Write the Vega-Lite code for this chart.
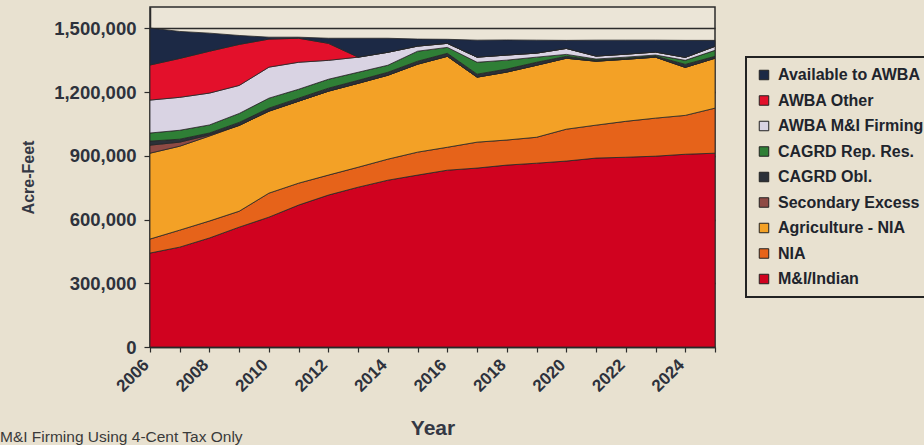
{
  "$schema": "https://vega.github.io/schema/vega-lite/v6.json",
  "width": 565,
  "height": 340,
  "autosize": {"type": "none"},
  "padding": {"left": 150, "top": 7, "right": 209, "bottom": 98},
  "background": "#e8e1d0",
  "title": {"text": "M&I Firming Using 4-Cent Tax Only", "orient": "bottom", "anchor": "start", "frame": "group", "dx": -150, "offset": -8, "fontSize": 15.5, "font": "Liberation Sans", "fontWeight": "normal", "color": "#3a3a3a"},
  "datasets": {
    "series": [
      {"s": "M&I/Indian", "rank": 1},
      {"s": "NIA", "rank": 2},
      {"s": "Agriculture - NIA", "rank": 3},
      {"s": "Secondary Excess", "rank": 4},
      {"s": "CAGRD Obl.", "rank": 5},
      {"s": "CAGRD Rep. Res.", "rank": 6},
      {"s": "AWBA M&I Firming", "rank": 7},
      {"s": "AWBA Other", "rank": 8},
      {"s": "Available to AWBA", "rank": 9}
    ]
  },
  "data": {"values": [
    {"year":2006,"s":"M&I/Indian","v":442000},{"year":2006,"s":"NIA","v":66000},{"year":2006,"s":"Agriculture - NIA","v":404000},{"year":2006,"s":"Secondary Excess","v":38000},{"year":2006,"s":"CAGRD Obl.","v":19000},{"year":2006,"s":"CAGRD Rep. Res.","v":38000},{"year":2006,"s":"AWBA M&I Firming","v":155000},{"year":2006,"s":"AWBA Other","v":165000},{"year":2006,"s":"Available to AWBA","v":174000},
    {"year":2007,"s":"M&I/Indian","v":470000},{"year":2007,"s":"NIA","v":80000},{"year":2007,"s":"Agriculture - NIA","v":395000},{"year":2007,"s":"Secondary Excess","v":19000},{"year":2007,"s":"CAGRD Obl.","v":14000},{"year":2007,"s":"CAGRD Rep. Res.","v":42000},{"year":2007,"s":"AWBA M&I Firming","v":155000},{"year":2007,"s":"AWBA Other","v":183000},{"year":2007,"s":"Available to AWBA","v":127000},
    {"year":2008,"s":"M&I/Indian","v":513000},{"year":2008,"s":"NIA","v":80000},{"year":2008,"s":"Agriculture - NIA","v":400000},{"year":2008,"s":"Secondary Excess","v":5000},{"year":2008,"s":"CAGRD Obl.","v":9000},{"year":2008,"s":"CAGRD Rep. Res.","v":38000},{"year":2008,"s":"AWBA M&I Firming","v":150000},{"year":2008,"s":"AWBA Other","v":197000},{"year":2008,"s":"Available to AWBA","v":85000},
    {"year":2009,"s":"M&I/Indian","v":564000},{"year":2009,"s":"NIA","v":75000},{"year":2009,"s":"Agriculture - NIA","v":404000},{"year":2009,"s":"Secondary Excess","v":0},{"year":2009,"s":"CAGRD Obl.","v":14000},{"year":2009,"s":"CAGRD Rep. Res.","v":42000},{"year":2009,"s":"AWBA M&I Firming","v":132000},{"year":2009,"s":"AWBA Other","v":193000},{"year":2009,"s":"Available to AWBA","v":42000},
    {"year":2010,"s":"M&I/Indian","v":611000},{"year":2010,"s":"NIA","v":113000},{"year":2010,"s":"Agriculture - NIA","v":386000},{"year":2010,"s":"Secondary Excess","v":0},{"year":2010,"s":"CAGRD Obl.","v":14000},{"year":2010,"s":"CAGRD Rep. Res.","v":47000},{"year":2010,"s":"AWBA M&I Firming","v":146000},{"year":2010,"s":"AWBA Other","v":132000},{"year":2010,"s":"Available to AWBA","v":9000},
    {"year":2011,"s":"M&I/Indian","v":668000},{"year":2011,"s":"NIA","v":103000},{"year":2011,"s":"Agriculture - NIA","v":386000},{"year":2011,"s":"Secondary Excess","v":0},{"year":2011,"s":"CAGRD Obl.","v":14000},{"year":2011,"s":"CAGRD Rep. Res.","v":42000},{"year":2011,"s":"AWBA M&I Firming","v":127000},{"year":2011,"s":"AWBA Other","v":113000},{"year":2011,"s":"Available to AWBA","v":5000},
    {"year":2012,"s":"M&I/Indian","v":715000},{"year":2012,"s":"NIA","v":94000},{"year":2012,"s":"Agriculture - NIA","v":395000},{"year":2012,"s":"Secondary Excess","v":0},{"year":2012,"s":"CAGRD Obl.","v":14000},{"year":2012,"s":"CAGRD Rep. Res.","v":42000},{"year":2012,"s":"AWBA M&I Firming","v":89000},{"year":2012,"s":"AWBA Other","v":80000},{"year":2012,"s":"Available to AWBA","v":24000},
    {"year":2013,"s":"M&I/Indian","v":752000},{"year":2013,"s":"NIA","v":94000},{"year":2013,"s":"Agriculture - NIA","v":395000},{"year":2013,"s":"Secondary Excess","v":0},{"year":2013,"s":"CAGRD Obl.","v":14000},{"year":2013,"s":"CAGRD Rep. Res.","v":38000},{"year":2013,"s":"AWBA M&I Firming","v":71000},{"year":2013,"s":"AWBA Other","v":0},{"year":2013,"s":"Available to AWBA","v":89000},
    {"year":2014,"s":"M&I/Indian","v":785000},{"year":2014,"s":"NIA","v":99000},{"year":2014,"s":"Agriculture - NIA","v":395000},{"year":2014,"s":"Secondary Excess","v":0},{"year":2014,"s":"CAGRD Obl.","v":14000},{"year":2014,"s":"CAGRD Rep. Res.","v":33000},{"year":2014,"s":"AWBA M&I Firming","v":61000},{"year":2014,"s":"AWBA Other","v":0},{"year":2014,"s":"Available to AWBA","v":66000},
    {"year":2015,"s":"M&I/Indian","v":809000},{"year":2015,"s":"NIA","v":108000},{"year":2015,"s":"Agriculture - NIA","v":414000},{"year":2015,"s":"Secondary Excess","v":0},{"year":2015,"s":"CAGRD Obl.","v":14000},{"year":2015,"s":"CAGRD Rep. Res.","v":47000},{"year":2015,"s":"AWBA M&I Firming","v":24000},{"year":2015,"s":"AWBA Other","v":0},{"year":2015,"s":"Available to AWBA","v":33000},
    {"year":2016,"s":"M&I/Indian","v":832000},{"year":2016,"s":"NIA","v":108000},{"year":2016,"s":"Agriculture - NIA","v":428000},{"year":2016,"s":"Secondary Excess","v":0},{"year":2016,"s":"CAGRD Obl.","v":14000},{"year":2016,"s":"CAGRD Rep. Res.","v":28000},{"year":2016,"s":"AWBA M&I Firming","v":19000},{"year":2016,"s":"AWBA Other","v":0},{"year":2016,"s":"Available to AWBA","v":19000},
    {"year":2017,"s":"M&I/Indian","v":842000},{"year":2017,"s":"NIA","v":122000},{"year":2017,"s":"Agriculture - NIA","v":306000},{"year":2017,"s":"Secondary Excess","v":0},{"year":2017,"s":"CAGRD Obl.","v":14000},{"year":2017,"s":"CAGRD Rep. Res.","v":56000},{"year":2017,"s":"AWBA M&I Firming","v":24000},{"year":2017,"s":"AWBA Other","v":0},{"year":2017,"s":"Available to AWBA","v":80000},
    {"year":2018,"s":"M&I/Indian","v":856000},{"year":2018,"s":"NIA","v":118000},{"year":2018,"s":"Agriculture - NIA","v":320000},{"year":2018,"s":"Secondary Excess","v":0},{"year":2018,"s":"CAGRD Obl.","v":14000},{"year":2018,"s":"CAGRD Rep. Res.","v":42000},{"year":2018,"s":"AWBA M&I Firming","v":24000},{"year":2018,"s":"AWBA Other","v":0},{"year":2018,"s":"Available to AWBA","v":71000},
    {"year":2019,"s":"M&I/Indian","v":865000},{"year":2019,"s":"NIA","v":122000},{"year":2019,"s":"Agriculture - NIA","v":339000},{"year":2019,"s":"Secondary Excess","v":0},{"year":2019,"s":"CAGRD Obl.","v":14000},{"year":2019,"s":"CAGRD Rep. Res.","v":24000},{"year":2019,"s":"AWBA M&I Firming","v":19000},{"year":2019,"s":"AWBA Other","v":0},{"year":2019,"s":"Available to AWBA","v":61000},
    {"year":2020,"s":"M&I/Indian","v":875000},{"year":2020,"s":"NIA","v":150000},{"year":2020,"s":"Agriculture - NIA","v":334000},{"year":2020,"s":"Secondary Excess","v":0},{"year":2020,"s":"CAGRD Obl.","v":9000},{"year":2020,"s":"CAGRD Rep. Res.","v":9000},{"year":2020,"s":"AWBA M&I Firming","v":28000},{"year":2020,"s":"AWBA Other","v":0},{"year":2020,"s":"Available to AWBA","v":38000},
    {"year":2021,"s":"M&I/Indian","v":889000},{"year":2021,"s":"NIA","v":155000},{"year":2021,"s":"Agriculture - NIA","v":301000},{"year":2021,"s":"Secondary Excess","v":0},{"year":2021,"s":"CAGRD Obl.","v":5000},{"year":2021,"s":"CAGRD Rep. Res.","v":5000},{"year":2021,"s":"AWBA M&I Firming","v":14000},{"year":2021,"s":"AWBA Other","v":0},{"year":2021,"s":"Available to AWBA","v":75000},
    {"year":2022,"s":"M&I/Indian","v":893000},{"year":2022,"s":"NIA","v":169000},{"year":2022,"s":"Agriculture - NIA","v":292000},{"year":2022,"s":"Secondary Excess","v":0},{"year":2022,"s":"CAGRD Obl.","v":5000},{"year":2022,"s":"CAGRD Rep. Res.","v":5000},{"year":2022,"s":"AWBA M&I Firming","v":14000},{"year":2022,"s":"AWBA Other","v":0},{"year":2022,"s":"Available to AWBA","v":66000},
    {"year":2023,"s":"M&I/Indian","v":898000},{"year":2023,"s":"NIA","v":179000},{"year":2023,"s":"Agriculture - NIA","v":287000},{"year":2023,"s":"Secondary Excess","v":0},{"year":2023,"s":"CAGRD Obl.","v":5000},{"year":2023,"s":"CAGRD Rep. Res.","v":5000},{"year":2023,"s":"AWBA M&I Firming","v":14000},{"year":2023,"s":"AWBA Other","v":0},{"year":2023,"s":"Available to AWBA","v":56000},
    {"year":2024,"s":"M&I/Indian","v":907000},{"year":2024,"s":"NIA","v":183000},{"year":2024,"s":"Agriculture - NIA","v":226000},{"year":2024,"s":"Secondary Excess","v":0},{"year":2024,"s":"CAGRD Obl.","v":14000},{"year":2024,"s":"CAGRD Rep. Res.","v":19000},{"year":2024,"s":"AWBA M&I Firming","v":14000},{"year":2024,"s":"AWBA Other","v":0},{"year":2024,"s":"Available to AWBA","v":80000},
    {"year":2025,"s":"M&I/Indian","v":912000},{"year":2025,"s":"NIA","v":212000},{"year":2025,"s":"Agriculture - NIA","v":235000},{"year":2025,"s":"Secondary Excess","v":0},{"year":2025,"s":"CAGRD Obl.","v":9000},{"year":2025,"s":"CAGRD Rep. Res.","v":28000},{"year":2025,"s":"AWBA M&I Firming","v":19000},{"year":2025,"s":"AWBA Other","v":0},{"year":2025,"s":"Available to AWBA","v":28000}
  ]},
  "transform": [
    {"lookup": "s", "from": {"data": {"name": "series"}, "key": "s", "fields": ["rank"]}}
  ],
  "mark": {"type": "area", "stroke": "#262626", "strokeWidth": 0.8, "strokeJoin": "round"},
  "encoding": {
    "x": {
      "field": "year", "type": "quantitative",
      "scale": {"domain": [2006, 2025], "nice": false, "zero": false},
      "axis": {
        "values": [2006,2007,2008,2009,2010,2011,2012,2013,2014,2015,2016,2017,2018,2019,2020,2021,2022,2023,2024,2025],
        "format": "d",
        "labelExpr": "datum.value % 2 == 0 ? datum.label : ''",
        "labelAngle": -45, "labelAlign": "right", "labelBaseline": "middle",
        "labelFontSize": 17, "labelPadding": 10, "labelOffset": -4, "labelOverlap": false, "labelFlush": false, "labelBound": false,
        "tickSize": 5, "grid": false,
        "title": "Year", "titleFontSize": 21, "titlePadding": 23
      }
    },
    "y": {
      "field": "v", "type": "quantitative", "stack": "zero",
      "scale": {"domain": [0, 1600000], "nice": false},
      "axis": {
        "values": [0, 300000, 600000, 900000, 1200000, 1500000],
        "format": ",d",
        "labelFontSize": 18.5, "labelPadding": 8, "tickSize": 6,
        "grid": true, "gridColor": "#2b2b2b", "gridWidth": 1.5,
        "title": "Acre-Feet", "titleFontSize": 16, "titlePadding": 17
      }
    },
    "order": {"field": "rank", "type": "quantitative", "sort": "ascending"},
    "color": {
      "field": "s", "type": "nominal",
      "scale": {
        "domain": ["Available to AWBA","AWBA Other","AWBA M&I Firming","CAGRD Rep. Res.","CAGRD Obl.","Secondary Excess","Agriculture - NIA","NIA","M&I/Indian"],
        "range": ["#1c2945","#e3102b","#d9d3e3","#2f7f36","#2b3038","#8e4a44","#f3a126","#e6631a","#d0021f"]
      },
      "legend": {
        "title": null, "orient": "none", "legendX": 596, "legendY": 50,
        "padding": 10, "strokeColor": "#222222", "fillColor": "#e8e1d0",
        "symbolType": "square", "symbolSize": 90, "symbolStrokeColor": "#222222", "symbolStrokeWidth": 1,
        "labelFontSize": 16, "labelFont": "Liberation Sans", "labelFontWeight": "bold", "labelColor": "#20242c",
        "labelOffset": 6, "rowPadding": 9.5, "labelLimit": 300
      }
    }
  },
  "config": {
    "view": {"stroke": "#2b2b2b", "strokeWidth": 1.5, "fill": "#ebe5d7"},
    "axis": {
      "labelFont": "Liberation Sans", "labelFontWeight": "bold", "labelColor": "#2e323c",
      "titleFont": "Liberation Sans", "titleFontWeight": "bold", "titleColor": "#343844",
      "domainColor": "#2b2b2b", "domainWidth": 1.5, "tickColor": "#2b2b2b", "tickWidth": 1.2
    },
    "legend": {"strokeWidth": 2}
  }
}
